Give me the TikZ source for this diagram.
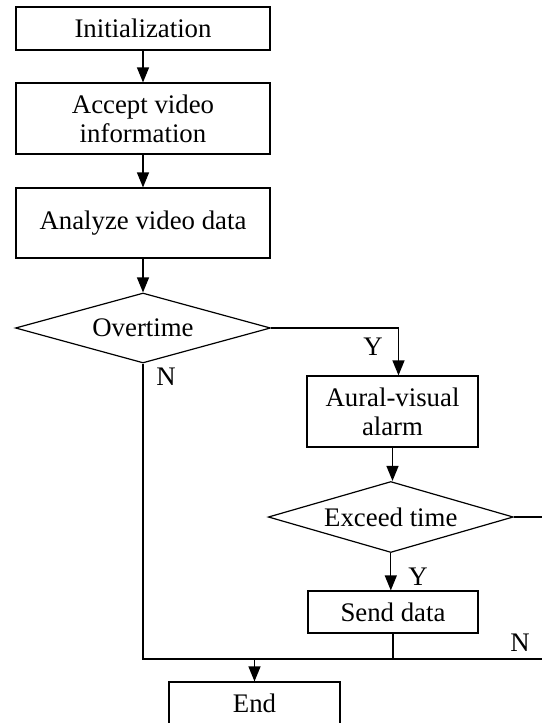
\documentclass[tikz,border=0pt]{standalone}
\usepackage{fontspec}
\setmainfont{Liberation Serif}
\usetikzlibrary{shapes.geometric,arrows.meta}
\tikzset{
  box/.style={draw,rectangle,inner sep=0pt,align=center},
  decision/.style={draw,diamond,inner sep=0pt,shape aspect=3.5},
  arr/.style={-{Triangle[length=15pt,width=12pt]}},
}
\begin{document}
\begin{tikzpicture}[x=1pt,y=-1pt,line width=1.2pt,font=\fontsize{26.8}{29}\selectfont]
        \useasboundingbox (0,0) rectangle (542,723);
        % main column
        \node[box,minimum width=254pt,minimum height=43pt] (init) at (143,28.5) {Initialization};
        \node[box,minimum width=254pt,minimum height=71pt] (accept) at (143,118.5) {Accept video\\information};
        \node[box,minimum width=254pt,minimum height=70pt] (analyze) at (143,223) {Analyze video data};
        \node[decision,minimum width=255pt,minimum height=70pt] (overtime) at (143,328) {Overtime};
        % alarm branch
        \node[box,minimum width=171pt,minimum height=71pt] (alarm) at (392.5,411.5) {Aural-visual\\alarm};
        \node[decision,minimum width=245pt,minimum height=71pt] (exceed) at (390.8,517) {Exceed time};
        \node[box,minimum width=170pt,minimum height=42pt] (send) at (393,612) {Send data};
        \node[box,minimum width=171pt,minimum height=42pt] (endbox) at (254.5,703) {End};
        
        \coordinate (edgeE) at (542,517);
        \coordinate (edgeR) at (542,659);
        \coordinate (merge) at (254.5,659);
        
        \draw[arr] (init) -- (accept);
        \draw[arr] (accept) -- (analyze);
        \draw[arr] (analyze) -- (overtime);
        \draw[arr] (overtime.east) -| ([xshift=6pt]alarm.north);
        \draw[arr] (alarm.south) -- (alarm.south |- exceed.north);
        \draw[arr] (exceed.south) -- (exceed.south |- send.north);
        \draw (exceed.east) -- (edgeE);
        \draw (overtime.south) |- (edgeR);
        \draw (send.south) -- (send.south |- edgeR);
        \draw[arr] (merge) -- (endbox.north);
        
        \node (yesA) at (373,347) {Y};
        \node (noA) at (166,377) {N};
        \node (yesB) at (418,577) {Y};
        \node (noB) at (520,643) {N};
      \end{tikzpicture}
\end{document}
